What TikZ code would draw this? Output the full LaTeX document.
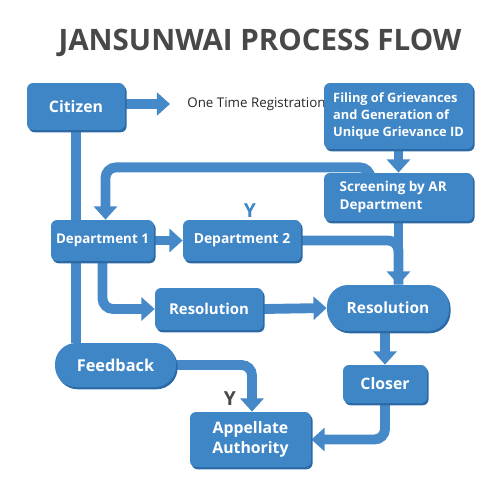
\documentclass[tikz,border=0pt]{standalone}
\usepackage{fontspec}
\setmainfont{Open Sans}
\usetikzlibrary{arrows.meta,shadows}
\definecolor{boxblue}{HTML}{3F86C6}
\definecolor{boxdark}{HTML}{2C6AA5}
\definecolor{connblue}{HTML}{4689C8}
\definecolor{titlegray}{HTML}{484848}
\pgfdeclarelayer{bg}
\pgfsetlayers{bg,main}
\newcommand\bsz[1]{\fontsize{#1}{1.2\dimexpr #1pt\relax}\selectfont\bfseries}
\tikzset{
  blk/.style={fill=boxblue, text=white, rounded corners=3.4pt, align=center,
    inner sep=1pt,
    drop shadow={shadow xshift=0.9pt, shadow yshift=-1.3pt, fill=boxdark, opacity=1}},
  pill/.style={blk, rounded corners=12pt},
  conn/.style={draw=connblue, line width=5.6pt, rounded corners=6pt},
  arr/.style={conn, -{Triangle[width=13pt,length=7.5pt]}},
  lbl/.style={inner sep=0pt}
}
\begin{document}
\begin{tikzpicture}[x=0.02cm, y=-0.02cm]
\useasboundingbox (0,0) rectangle (500,500);
\node[lbl, text=titlegray, font=\bsz{16.8}] (title) at (260,43) {JANSUNWAI PROCESS FLOW};

\node[blk, minimum width=19.6mm, minimum height=9.4mm, font=\bsz{9}] (citizen) at (76,106.5) {Citizen};
\node[anchor=west, inner xsep=3.4mm, inner ysep=0pt, text=black!85, font=\fontsize{7.6}{9}\selectfont] (otr) at (170,104) {One Time Registration};
\node[blk, minimum width=29.8mm, minimum height=13.2mm, align=left, font=\fontsize{7.3}{9.7}\selectfont\bfseries] (filing) at (398.5,116) {Filing of Grievances\\and Generation of\\Unique Grievance ID};
\node[blk, minimum width=29.8mm, minimum height=9.6mm, align=left, font=\fontsize{7.7}{9.7}\selectfont\bfseries] (screening) at (398.5,197) {Screening by AR\\Department\hspace*{7mm}};
\node[blk, minimum width=20.6mm, minimum height=8.2mm, font=\bsz{7.6}] (dept1) at (102.5,240.5) {Department 1};
\node[blk, minimum width=23.6mm, minimum height=8.2mm, font=\bsz{7.9}] (dept2) at (242,240.5) {Department 2};
\node[blk, minimum width=21.6mm, minimum height=8.4mm, font=\bsz{8.5}] (res1) at (209,309) {Resolution};
\node[pill, minimum width=24.4mm, minimum height=9.2mm, font=\bsz{8.8}] (res2) at (388,308) {Resolution};
\node[pill, minimum width=24.2mm, minimum height=8.8mm, font=\bsz{9.3}] (feedback) at (115.5,365) {Feedback};
\node[blk, minimum width=16.8mm, minimum height=7.6mm, font=\bsz{9}] (closer) at (385,384) {Closer};
\node[blk, minimum width=24.2mm, minimum height=11mm, font=\fontsize{9}{11.4}\selectfont\bfseries] (appellate) at (250.5,439.5) {Appellate\\Authority};

\node[lbl, text=boxblue, font=\bsz{11}] (y1) at (250,211) {Y};
\node[lbl, text=titlegray, font=\bsz{11}] (y2) at (230,399) {Y};

\begin{pgfonlayer}{bg}
\draw[arr] (citizen.east |- otr.west) -- (otr.west);
\draw[arr] (filing.south) -- (screening.north);
\draw[arr] ([xshift=-16pt, yshift=-8pt]screening.north) -- ([xshift=-16pt, yshift=3pt]screening.north) -| ([xshift=1.7pt]dept1.north);
\draw[arr] (dept1.east) -- (dept2.west);
\draw[conn] (citizen.south) -- (citizen.south |- feedback.north);
\draw[arr] (dept1.south) |- (res1.west);
\draw[arr] (res1.east) -- (res2.west);
\draw[conn] (dept2.east) -| (screening.south |- res2.north);
\draw[arr] (screening.south) -- (screening.south |- res2.north);
\draw[arr] (closer.north |- res2.south) -- (closer.north);
\draw[arr] (closer.south) |- (appellate.east);
\draw[arr] (feedback.east) -| ([xshift=0.85pt]appellate.north);
\end{pgfonlayer}
\end{tikzpicture}
\end{document}
